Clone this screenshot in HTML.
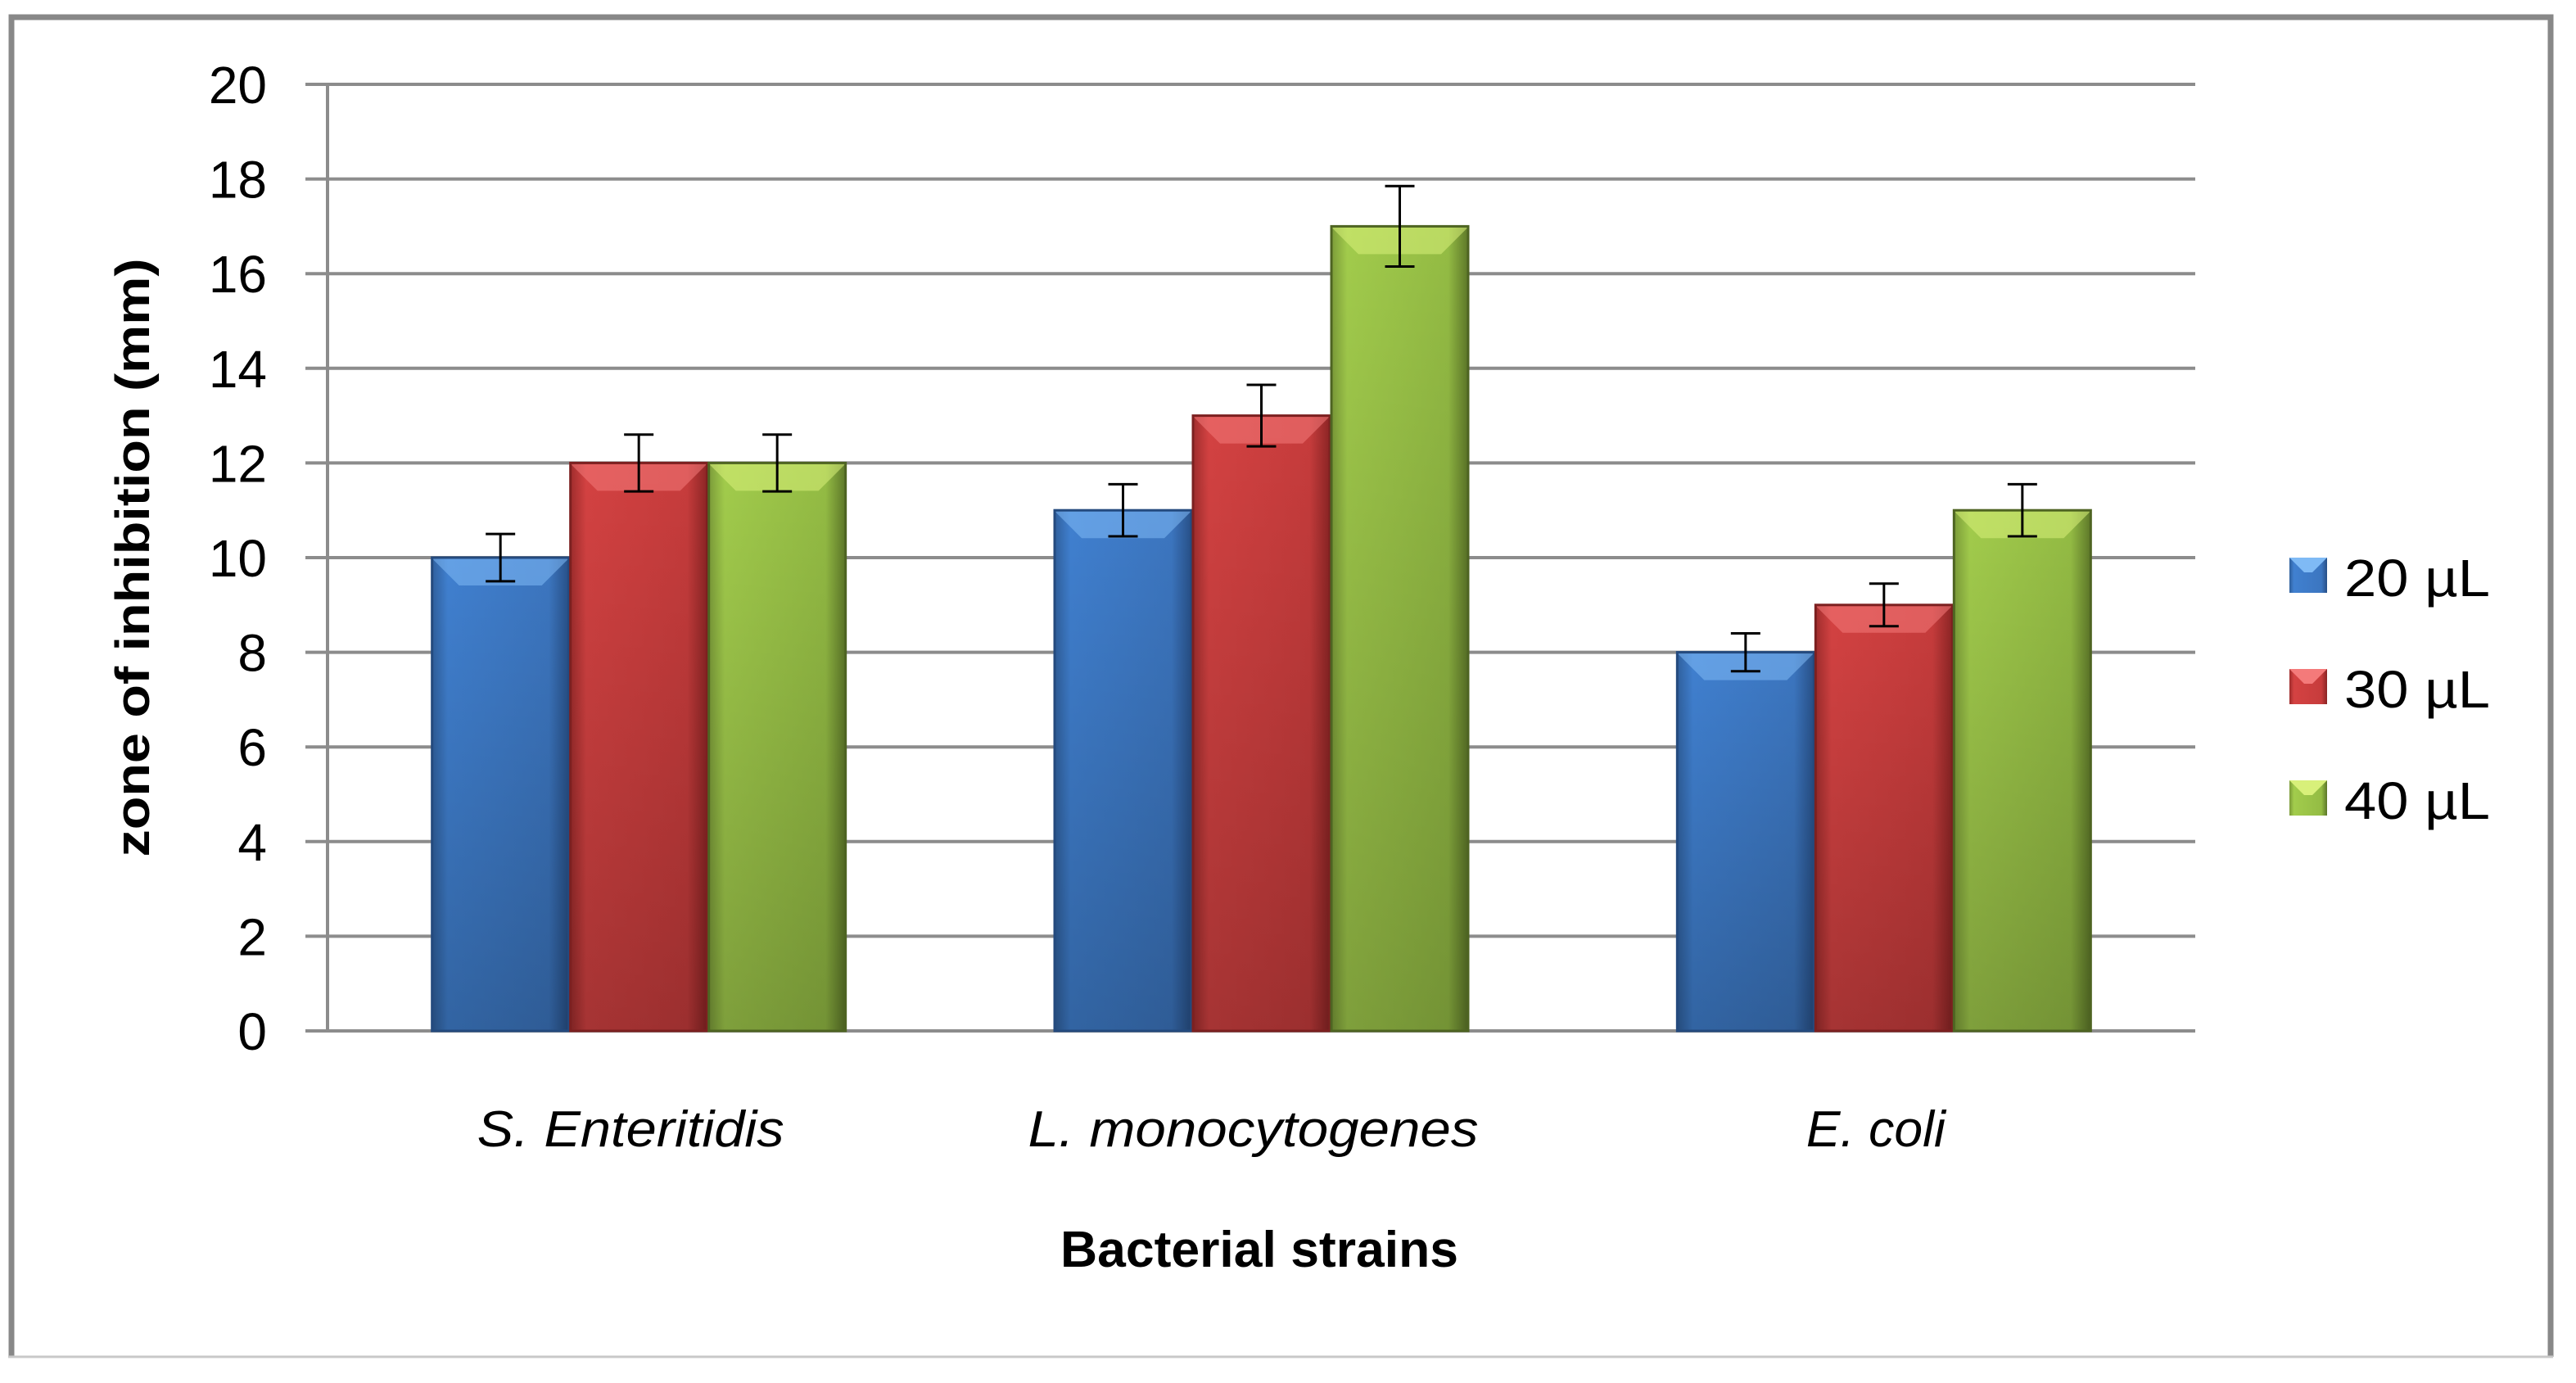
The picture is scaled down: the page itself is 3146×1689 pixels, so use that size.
<!DOCTYPE html>
<html><head><meta charset="utf-8"><style>
html,body{margin:0;padding:0;background:#fff;}
svg{display:block;font-family:"Liberation Sans",sans-serif;}
</style></head><body>
<svg id="chart" width="3146" height="1689" viewBox="0 0 3146 1689" xmlns="http://www.w3.org/2000/svg">
<defs>
<linearGradient id="gb" x1="0" y1="0" x2="1" y2="0"><stop offset="0" stop-color="#2f5f9c"/><stop offset="0.12" stop-color="#4080d0"/><stop offset="0.85" stop-color="#3c76c0"/><stop offset="1" stop-color="#274f86"/></linearGradient>
<linearGradient id="gr" x1="0" y1="0" x2="1" y2="0"><stop offset="0" stop-color="#9e2c2c"/><stop offset="0.12" stop-color="#d44242"/><stop offset="0.85" stop-color="#c73c3c"/><stop offset="1" stop-color="#8a2424"/></linearGradient>
<linearGradient id="gg" x1="0" y1="0" x2="1" y2="0"><stop offset="0" stop-color="#7a9a38"/><stop offset="0.12" stop-color="#a2cc4c"/><stop offset="0.85" stop-color="#94bc44"/><stop offset="1" stop-color="#5c7628"/></linearGradient>
<linearGradient id="shade" x1="0" y1="0" x2="0" y2="1"><stop offset="0" stop-color="#000" stop-opacity="0"/><stop offset="1" stop-color="#000" stop-opacity="0.22"/></linearGradient>
</defs>
<rect x="14" y="21" width="3101" height="1636" fill="#fff"/>
<path d="M14,1657 L14,21 L3115,21 L3115,1657" fill="none" stroke="#888" stroke-width="7"/>
<line x1="10" y1="1657" x2="3118" y2="1657" stroke="#c8c8c8" stroke-width="3"/>
<g id="grid"></g>
<g id="bars"></g>
<g id="errs"></g>
<g id="labels"></g>
<text x="0" y="0" transform="translate(182,681) rotate(-90)" text-anchor="middle" font-size="58" font-weight="bold" textLength="731" lengthAdjust="spacingAndGlyphs">zone of inhibition  (mm)</text>
<text x="1538" y="1547" text-anchor="middle" font-size="62" font-weight="bold" textLength="486" lengthAdjust="spacingAndGlyphs">Bacterial strains</text>
<g id="legend"></g>
</svg>
<script>
const categories = ["S. Enteritidis", "L. monocytogenes", "E. coli"];
const catLabelWidths = [375, 550, 170];
const seriesNames = ["20  µL", "30  µL", "40  µL"];
const v20 = [10, 11, 8];
const v30 = [12, 13, 9];
const v40 = [12, 17, 11];
const e20 = [0.5, 0.55, 0.4];
const e30 = [0.6, 0.65, 0.45];
const e40 = [0.6, 0.85, 0.55];
const yTicks = [0, 2, 4, 6, 8, 10, 12, 14, 16, 18, 20];

const NS = "http://www.w3.org/2000/svg";
const X0 = 400, X1 = 2681, Y0 = 1259, Y1 = 103, YMAX = 20;
const y = v => Y0 - (v / YMAX) * (Y0 - Y1);
const catW = (X1 - X0) / categories.length;
const barW = 169;
const groupX = i => X0 + catW * i + catW / 2 - barW * 1.5;
function mk(tag, attrs, parent) {
  const el = document.createElementNS(NS, tag);
  for (const k in attrs) el.setAttribute(k, attrs[k]);
  parent.appendChild(el);
  return el;
}
const grid = document.getElementById("grid");
const labels = document.getElementById("labels");
yTicks.forEach(t => {
  const l = mk("line", {x1: 373, x2: X1, y1: y(t), y2: y(t), stroke: "#8c8c8c", "stroke-width": 4}, grid);
  
  
  const tx = mk("text", {x: 326, y: y(t) + 23, "text-anchor": "end", "font-size": 64, fill: "#000"}, labels);
  tx.textContent = t;
  
  
});
const ax = mk("line", {x1: X0, x2: X0, y1: Y1, y2: Y0, stroke: "#8c8c8c", "stroke-width": 4}, grid);



const vals = [v20, v30, v40], errs = [e20, e30, e40];
const fills = ["url(#gb)", "url(#gr)", "url(#gg)"];
const tops = ["#7fbaf5", "#f47a7a", "#d8f07a"];
const edges = ["#244a7e", "#7c2020", "#4e6422"];
const bars = document.getElementById("bars");
const eg = document.getElementById("errs");
categories.forEach((c, i) => {
  vals.forEach((sv, s) => {
    const bx = groupX(i) + s * barW, by = y(sv[i]), bh = Y0 - by;
    const g = mk("g", {}, bars);
    
    
    mk("rect", {x: bx, y: by, width: barW, height: bh, fill: fills[s]}, g);
    mk("rect", {x: bx, y: by, width: barW, height: bh, fill: "url(#shade)"}, g);
    mk("polygon", {points: `${bx},${by} ${bx + barW},${by} ${bx + barW - 34},${by + 34} ${bx + 34},${by + 34}`, fill: tops[s], opacity: 0.55}, g);
    mk("rect", {x: bx + 1, y: by, width: barW - 2, height: bh, fill: "none", stroke: edges[s], "stroke-width": 3}, g);
    const cx = bx + barW / 2, e = errs[s][i];
    const eb = mk("g", {stroke: "#000", "stroke-width": 3}, eg);
    
    
    mk("line", {x1: cx, x2: cx, y1: y(sv[i] + e), y2: y(sv[i] - e)}, eb);
    mk("line", {x1: cx - 18, x2: cx + 18, y1: y(sv[i] + e), y2: y(sv[i] + e)}, eb);
    mk("line", {x1: cx - 18, x2: cx + 18, y1: y(sv[i] - e), y2: y(sv[i] - e)}, eb);
  });
  const t = mk("text", {x: X0 + catW * i + catW / 2 - 10, y: 1400, "text-anchor": "middle", "font-size": 62, "font-style": "italic", textLength: catLabelWidths[i], lengthAdjust: "spacingAndGlyphs"}, labels);
  t.textContent = c;
  
  
});
const lg = document.getElementById("legend");
seriesNames.forEach((n, s) => {
  const g = mk("g", {}, lg);
  
  
  const ry = 681 + s * 136;
  mk("rect", {x: 2796, y: ry, width: 46, height: 43, fill: fills[s]}, g);
  mk("polygon", {points: `2796,${ry} 2842,${ry} 2824,${ry + 18} 2814,${ry + 18}`, fill: tops[s]}, g);
  const t = mk("text", {x: 2863, y: ry + 47, "font-size": 64, textLength: 178, lengthAdjust: "spacingAndGlyphs"}, g);
  t.textContent = n;
});
</script>
</body></html>
